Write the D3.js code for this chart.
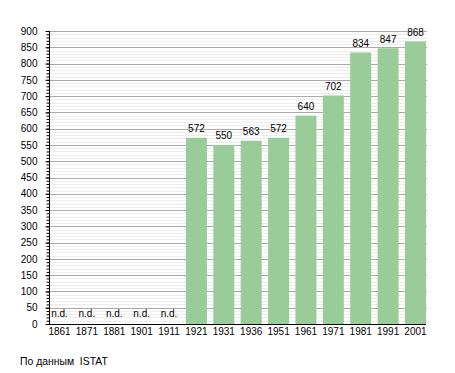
<!DOCTYPE html>
<html>
<head>
<meta charset="utf-8">
<script src="https://cdn.jsdelivr.net/npm/d3@7"></script>
<style>
  body { margin: 0; background: #fff; }
  text { font-family: "Liberation Sans", Arial, sans-serif; }
</style>
</head>
<body>
<svg id="chart" width="455" height="373"></svg>
<script>
const years = ["1861", "1871", "1881", "1901", "1911", "1921", "1931", "1936", "1951", "1961", "1971", "1981", "1991", "2001"];
// null = no data ("n.d.")
const population = [null, null, null, null, null, 572, 550, 563, 572, 640, 702, 834, 847, 868];
const yTicks = [0, 50, 100, 150, 200, 250, 300, 350, 400, 450, 500, 550, 600, 650, 700, 750, 800, 850, 900];
const sourceNote = "По данным  ISTAT";

const svg = d3.select("#chart");
const plot = { left: 49, right: 426, top: 31, bottom: 324 };

const x = d3.scaleBand().domain(years).range([plot.left, plot.right]).paddingInner(0.233).paddingOuter(0).align(0);
const y = d3.scaleLinear().domain([0, 900]).range([plot.bottom, plot.top]);

// minor gridlines
svg.append("g").selectAll("line")
  .data(d3.range(10, 900, 10).filter(v => v % 50 !== 0))
  .join("line")
  .attr("x1", plot.left).attr("x2", plot.right + 1)
  .attr("y1", d => Math.round(y(d)) + 0.5).attr("y2", d => Math.round(y(d)) + 0.5)
  .attr("stroke", "#ededed");

// major gridlines
svg.append("g").selectAll("line")
  .data(yTicks.filter(v => v > 0))
  .join("line")
  .attr("x1", plot.left).attr("x2", plot.right + 1)
  .attr("y1", d => Math.round(y(d)) + 0.5).attr("y2", d => Math.round(y(d)) + 0.5)
  .attr("stroke", "#aaaaaa");

// bars
svg.append("g").selectAll("rect")
  .data(years.map((yr, i) => ({ yr, v: population[i] })).filter(d => d.v !== null))
  .join("rect")
  .attr("x", d => x(d.yr))
  .attr("y", d => y(d.v))
  .attr("width", x.bandwidth())
  .attr("height", d => plot.bottom - y(d.v))
  .attr("fill", "#99cc99");

// value labels
svg.append("g").selectAll("text")
  .data(years.map((yr, i) => ({ yr, v: population[i] })))
  .join("text")
  .attr("x", d => x(d.yr) + x.bandwidth() / 2)
  .attr("y", d => d.v === null ? y(0) - 7 : y(d.v) - 5.5)
  .attr("text-anchor", "middle")
  .attr("font-size", 10)
  .attr("fill", "#000")
  .text(d => d.v === null ? "n.d." : d.v);

// y axis
const yAxis = svg.append("g").attr("transform", `translate(${plot.left + 0.5},0)`);
yAxis.call(d3.axisLeft(y).tickValues(d3.range(0, 901, 10)).tickSize(3).tickFormat(""))
  .call(g => g.select(".domain").remove());
yAxis.append("g").call(d3.axisLeft(y).tickValues(yTicks).tickSize(4).tickPadding(8))
  .call(g => g.select(".domain").remove())
  .call(g => g.selectAll("text").attr("font-size", 10).attr("font-family", "Liberation Sans, Arial, sans-serif").attr("fill", "#000"));
yAxis.append("line").attr("y1", plot.top).attr("y2", plot.bottom).attr("stroke", "#000");

// x axis
const xAxis = svg.append("g").attr("transform", `translate(0,${plot.bottom + 0.5})`);
xAxis.call(d3.axisBottom(x).tickSize(0).tickPadding(3))
  .call(g => g.select(".domain").remove())
  .call(g => g.selectAll("text").attr("font-size", 10).attr("font-family", "Liberation Sans, Arial, sans-serif").attr("fill", "#000"));
xAxis.append("line").attr("x1", plot.left).attr("x2", plot.right).attr("stroke", "#000");

svg.append("text")
  .attr("x", 20).attr("y", 365)
  .attr("font-size", 10.4)
  .attr("fill", "#000")
  .attr("xml:space", "preserve")
  .style("white-space", "pre")
  .text(sourceNote);
</script>
</body>
</html>
